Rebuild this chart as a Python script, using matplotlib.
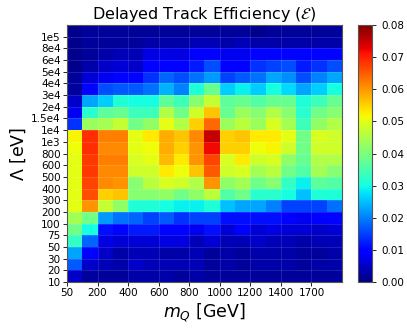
import numpy as np
import matplotlib
matplotlib.use("Agg")
import matplotlib.pyplot as plt

# m_Q columns (GeV) and Lambda rows (eV)
mass_labels = ["50", "100", "200", "300", "400", "500", "600", "700", "800",
               "900", "1000", "1100", "1200", "1300", "1400", "1500", "1700", "1800"]
lambda_labels = ["10", "20", "30", "50", "75", "100", "200", "300", "400", "500",
                 "600", "800", "1e3", "1e4", "1.5e4", "2e4", "3e4", "4e4", "5e4",
                 "6e4", "8e4", "1e5"]

# efficiency, rows listed from the top of the plot (largest Lambda) down
eff_top_down = [
    [0.001, 0.002, 0.002, 0.002, 0.002, 0.002, 0.002, 0.002, 0.002, 0.002, 0.002, 0.002, 0.001, 0.002, 0.002, 0.002, 0.002, 0.002],
    [0.001, 0.002, 0.002, 0.002, 0.002, 0.003, 0.003, 0.003, 0.004, 0.004, 0.003, 0.004, 0.003, 0.003, 0.003, 0.003, 0.003, 0.003],
    [0.001, 0.002, 0.003, 0.004, 0.004, 0.007, 0.007, 0.007, 0.009, 0.009, 0.008, 0.008, 0.010, 0.010, 0.010, 0.010, 0.010, 0.010],
    [0.001, 0.003, 0.005, 0.006, 0.005, 0.010, 0.010, 0.010, 0.012, 0.016, 0.010, 0.010, 0.014, 0.015, 0.016, 0.012, 0.014, 0.016],
    [0.002, 0.006, 0.008, 0.010, 0.010, 0.014, 0.018, 0.016, 0.019, 0.022, 0.015, 0.017, 0.019, 0.023, 0.021, 0.016, 0.020, 0.023],
    [0.002, 0.010, 0.016, 0.017, 0.017, 0.019, 0.024, 0.020, 0.031, 0.038, 0.026, 0.029, 0.026, 0.030, 0.027, 0.023, 0.026, 0.030],
    [0.005, 0.023, 0.026, 0.031, 0.030, 0.030, 0.037, 0.034, 0.041, 0.047, 0.037, 0.038, 0.036, 0.038, 0.038, 0.031, 0.034, 0.038],
    [0.008, 0.032, 0.037, 0.038, 0.034, 0.034, 0.045, 0.039, 0.048, 0.056, 0.038, 0.043, 0.041, 0.045, 0.041, 0.032, 0.039, 0.041],
    [0.014, 0.043, 0.044, 0.047, 0.039, 0.042, 0.050, 0.045, 0.055, 0.064, 0.043, 0.046, 0.043, 0.049, 0.044, 0.034, 0.042, 0.045],
    [0.052, 0.069, 0.062, 0.062, 0.050, 0.053, 0.058, 0.056, 0.061, 0.075, 0.055, 0.056, 0.053, 0.053, 0.050, 0.039, 0.049, 0.048],
    [0.051, 0.069, 0.061, 0.061, 0.050, 0.051, 0.058, 0.055, 0.060, 0.072, 0.055, 0.055, 0.051, 0.052, 0.048, 0.039, 0.048, 0.048],
    [0.050, 0.068, 0.062, 0.062, 0.049, 0.050, 0.057, 0.053, 0.060, 0.067, 0.049, 0.053, 0.048, 0.049, 0.042, 0.038, 0.045, 0.045],
    [0.050, 0.068, 0.061, 0.061, 0.048, 0.048, 0.053, 0.051, 0.056, 0.065, 0.048, 0.049, 0.044, 0.046, 0.039, 0.036, 0.044, 0.041],
    [0.050, 0.067, 0.061, 0.060, 0.041, 0.046, 0.049, 0.048, 0.045, 0.060, 0.042, 0.044, 0.039, 0.041, 0.033, 0.029, 0.037, 0.036],
    [0.050, 0.066, 0.055, 0.056, 0.041, 0.041, 0.042, 0.039, 0.042, 0.046, 0.036, 0.039, 0.032, 0.032, 0.030, 0.025, 0.031, 0.031],
    [0.050, 0.060, 0.047, 0.042, 0.031, 0.031, 0.030, 0.029, 0.029, 0.031, 0.025, 0.023, 0.023, 0.020, 0.015, 0.015, 0.015, 0.019],
    [0.044, 0.039, 0.022, 0.019, 0.018, 0.015, 0.017, 0.014, 0.015, 0.015, 0.011, 0.011, 0.011, 0.011, 0.009, 0.008, 0.009, 0.010],
    [0.039, 0.030, 0.011, 0.010, 0.012, 0.012, 0.010, 0.010, 0.008, 0.011, 0.006, 0.009, 0.006, 0.007, 0.006, 0.006, 0.005, 0.006],
    [0.033, 0.018, 0.007, 0.006, 0.006, 0.006, 0.007, 0.007, 0.004, 0.006, 0.004, 0.004, 0.005, 0.004, 0.004, 0.003, 0.004, 0.004],
    [0.023, 0.010, 0.005, 0.003, 0.004, 0.004, 0.003, 0.003, 0.004, 0.002, 0.003, 0.002, 0.003, 0.003, 0.003, 0.002, 0.002, 0.003],
    [0.017, 0.005, 0.004, 0.003, 0.005, 0.004, 0.004, 0.004, 0.004, 0.002, 0.003, 0.002, 0.003, 0.003, 0.003, 0.002, 0.003, 0.003],
    [0.005, 0.002, 0.002, 0.002, 0.003, 0.003, 0.003, 0.002, 0.003, 0.002, 0.002, 0.002, 0.002, 0.002, 0.002, 0.002, 0.002, 0.002],
]

eff = np.array(eff_top_down)[::-1]

fig = plt.figure(figsize=(4.07, 3.28), dpi=100)
ax = fig.add_axes([0.1646, 0.140, 0.6757, 0.784])
cax = fig.add_axes([0.8796, 0.140, 0.0344, 0.784])

mesh = ax.pcolormesh(np.arange(len(mass_labels) + 1), np.arange(len(lambda_labels) + 1),
                     eff, cmap="jet", vmin=0.0, vmax=0.08)

# ticks sit on cell edges
ax.set_xticks(np.arange(0, len(mass_labels), 2))
ax.set_xticklabels(mass_labels[::2], fontsize=7.5)
ax.set_yticks(np.arange(len(lambda_labels)))
ax.set_yticklabels(lambda_labels, fontsize=7.5)
ax.tick_params(length=3, width=0.6, pad=1.5)
ax.grid(True, color="white", alpha=0.12, linewidth=0.8)

ax.set_title(r"Delayed Track Efficiency ($\mathcal{E}$)", fontsize=11.5, pad=4)
ax.set_xlabel(r"$m_Q$ [GeV]", fontsize=12.5, labelpad=2)
ax.set_ylabel(r"$\Lambda$ [eV]", fontsize=12.5, labelpad=2)
for s in ax.spines.values():
    s.set_color("#555555")

cb = fig.colorbar(mesh, cax=cax)
cb.set_ticks(np.arange(0, 0.081, 0.01))
cb.ax.tick_params(labelsize=7.5, length=3, width=0.6)
cb.outline.set_edgecolor("#555555")

fig.savefig("out.png", dpi=100)
